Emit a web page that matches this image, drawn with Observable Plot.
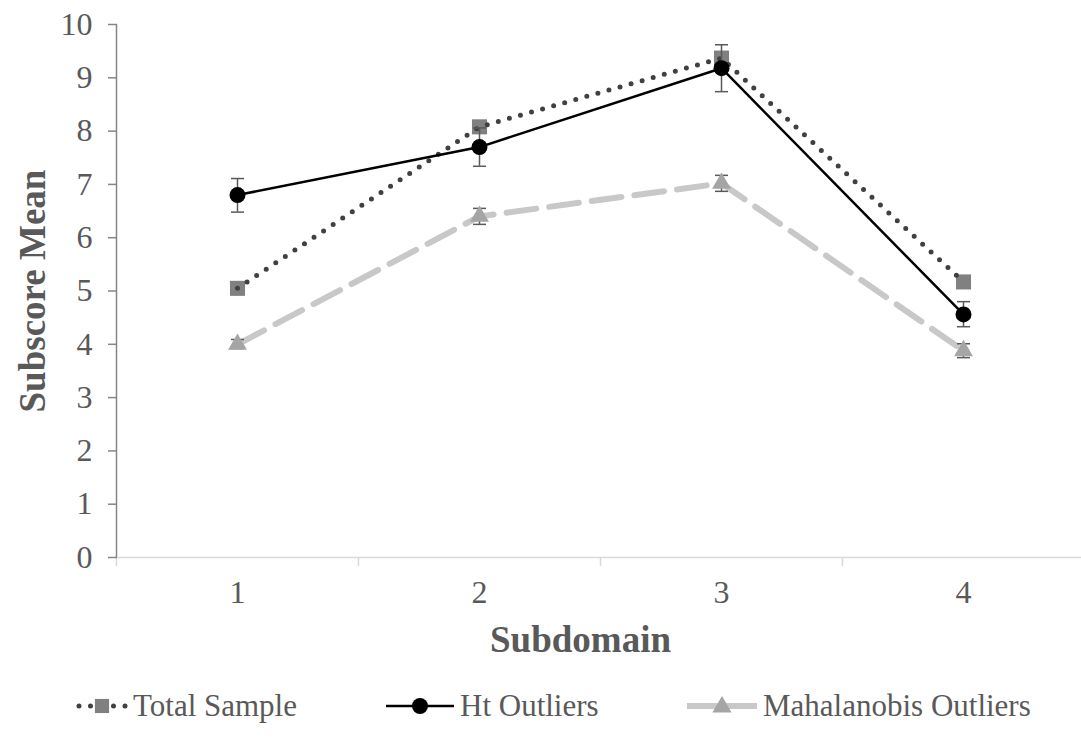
<!DOCTYPE html>
<html>
<head>
<meta charset="utf-8">
<script src="https://cdn.jsdelivr.net/npm/d3@7"></script>
<script src="https://cdn.jsdelivr.net/npm/@observablehq/plot@0.6"></script>
<style>
  html, body { margin: 0; padding: 0; background: #fff; }
  #wrap { position: relative; width: 1081px; height: 750px; font-family: "Liberation Serif", "Times New Roman", serif; }
  #chart svg { display: block; }
  #chart svg text { font-family: "Liberation Serif", "Times New Roman", serif; }
  .leg { position: absolute; top: 688px; display: flex; align-items: center; font-size: 31px; color: #595959; white-space: nowrap; }
  .leg svg { display: block; }
</style>
</head>
<body>
<div id="wrap">
  <div id="chart"></div>
  <div class="leg" id="leg1" style="left:76px"></div>
  <div class="leg" id="leg2" style="left:386px"></div>
  <div class="leg" id="leg3" style="left:687px"></div>
</div>
<script>
// ---- data ----
const subdomains = [1, 2, 3, 4];
const seriesNames = ["Total Sample", "Ht Outliers", "Mahalanobis Outliers"];
const totalSample = [5.05, 8.08, 9.37, 5.17];
const htOutliers = [6.8, 7.7, 9.18, 4.56];
const htLow = [6.48, 7.34, 8.74, 4.33];
const htHigh = [7.11, 8.06, 9.62, 4.80];
const mahal = [4.0, 6.4, 7.02, 3.88];
const mahalLow = [3.92, 6.25, 6.87, 3.75];
const mahalHigh = [4.09, 6.55, 7.17, 4.01];
const yTicks = [0, 1, 2, 3, 4, 5, 6, 7, 8, 9, 10];

// ---- tables ----
const tot = subdomains.map((s, i) => ({s, v: totalSample[i]}));
const ht = subdomains.map((s, i) => ({s, v: htOutliers[i], lo: htLow[i], hi: htHigh[i]}));
const mh = subdomains.map((s, i) => ({s, v: mahal[i], lo: mahalLow[i], hi: mahalHigh[i]}));
const boundaries = [0.5, ...subdomains.map(s => s + 0.5)];

const FONT = "'Liberation Serif', 'Times New Roman', serif";
const capSymbol = {draw(ctx) { ctx.moveTo(-6.5, 0); ctx.lineTo(6.5, 0); }};
const errColor = "#595959";

const chart = Plot.plot({
  width: 1081,
  height: 670,
  marginLeft: 117,
  marginRight: 0,
  marginTop: 24,
  marginBottom: 113,
  style: {fontFamily: FONT, background: "#fff"},
  x: {type: "linear", domain: [0.5, 4.5], range: [116, 1084]},
  y: {domain: [0, 10]},
  marks: [
    // x axis line and boundary ticks
    Plot.ruleY([0], {stroke: "#d9d9d9", strokeWidth: 1.5}),
    Plot.axisX(boundaries, {tickSize: 9, tickFormat: () => "", stroke: "#d9d9d9", strokeWidth: 1.5, label: null}),
    Plot.axisX(subdomains, {tickSize: 0, tickPadding: 23, fontSize: 32, fontFamily: FONT, fill: "#595959", label: null, tickFormat: d => String(d)}),
    // y axis
    Plot.ruleX([0.5], {y1: 0, y2: 10, stroke: "#868686", strokeWidth: 1.5}),
    Plot.axisY(yTicks, {tickSize: 9, tickPadding: 16, fontSize: 32, fontFamily: FONT, stroke: "#868686", strokeWidth: 1.5, fill: "#595959", label: null, tickFormat: d => String(d)}),
    // axis titles
    Plot.text(["Subdomain"], {frameAnchor: "bottom", dy: 83, dx: -19, fontSize: 37, fontFamily: FONT, fontWeight: "bold", fill: "#595959", lineAnchor: "middle"}),
    Plot.text(["Subscore Mean"], {frameAnchor: "left", dx: -84, rotate: -90, fontSize: 37, fontFamily: FONT, fontWeight: "bold", fill: "#595959", textAnchor: "middle", lineAnchor: "middle"}),
    // Mahalanobis
    Plot.line(mh, {x: "s", y: "v", stroke: "#c8c8c8", strokeWidth: 6, strokeDasharray: "30 13"}),
    Plot.ruleX(mh, {x: "s", y1: "lo", y2: "hi", stroke: errColor, strokeWidth: 1.5}),
    Plot.dot(mh, {x: "s", y: "lo", symbol: capSymbol, stroke: errColor, strokeWidth: 1.5, r: 3}),
    Plot.dot(mh, {x: "s", y: "hi", symbol: capSymbol, stroke: errColor, strokeWidth: 1.5, r: 3}),
    Plot.dot(mh, {x: "s", y: "v", symbol: "triangle", fill: "#a5a5a5", r: 7}),
    // Total sample
    Plot.dot(tot, {x: "s", y: "v", symbol: "square", fill: "#808080", r: 8.5}),
    Plot.line(tot, {x: "s", y: "v", stroke: "#404040", strokeWidth: 5, strokeDasharray: "0 11.5", strokeLinecap: "round"}),
    // Ht outliers
    Plot.line(ht, {x: "s", y: "v", stroke: "#000", strokeWidth: 2.5}),
    Plot.ruleX(ht, {x: "s", y1: "lo", y2: "hi", stroke: errColor, strokeWidth: 1.5}),
    Plot.dot(ht, {x: "s", y: "lo", symbol: capSymbol, stroke: errColor, strokeWidth: 1.5, r: 3}),
    Plot.dot(ht, {x: "s", y: "hi", symbol: capSymbol, stroke: errColor, strokeWidth: 1.5, r: 3}),
    Plot.dot(ht, {x: "s", y: "v", symbol: "circle", fill: "#000", r: 8})
  ]
});
document.getElementById("chart").appendChild(chart);

// ---- legend ----
const swatchW = [52, 68, 70];
function swatch(kind) {
  const w = swatchW[kind], h = 24;
  const svg = d3.create("svg").attr("width", w).attr("height", h).style("margin-right", kind === 0 ? "5px" : "6px");
  if (kind === 0) {
    svg.append("line").attr("x1", 3).attr("x2", w - 2).attr("y1", h / 2).attr("y2", h / 2)
      .attr("stroke", "#404040").attr("stroke-width", 5).attr("stroke-dasharray", "0 11.5").attr("stroke-linecap", "round");
    svg.append("path").attr("d", d3.symbol(d3.symbolSquare, 200)()).attr("transform", `translate(${w / 2},${h / 2})`).attr("fill", "#808080");
  } else if (kind === 1) {
    svg.append("line").attr("x1", 0).attr("x2", w).attr("y1", h / 2).attr("y2", h / 2).attr("stroke", "#000").attr("stroke-width", 2.5);
    svg.append("circle").attr("cx", w / 2).attr("cy", h / 2).attr("r", 8).attr("fill", "#000");
  } else {
    svg.append("line").attr("x1", 0).attr("x2", w).attr("y1", h / 2).attr("y2", h / 2).attr("stroke", "#c8c8c8").attr("stroke-width", 6);
    svg.append("path").attr("d", d3.symbol(d3.symbolTriangle, 160)()).attr("transform", `translate(${w / 2},${h / 2 + 1})`).attr("fill", "#a5a5a5");
  }
  return svg.node();
}
["leg1", "leg2", "leg3"].forEach((id, i) => {
  const el = document.getElementById(id);
  el.appendChild(swatch(i));
  const span = document.createElement("span");
  span.textContent = seriesNames[i];
  el.appendChild(span);
});
</script>
</body>
</html>
